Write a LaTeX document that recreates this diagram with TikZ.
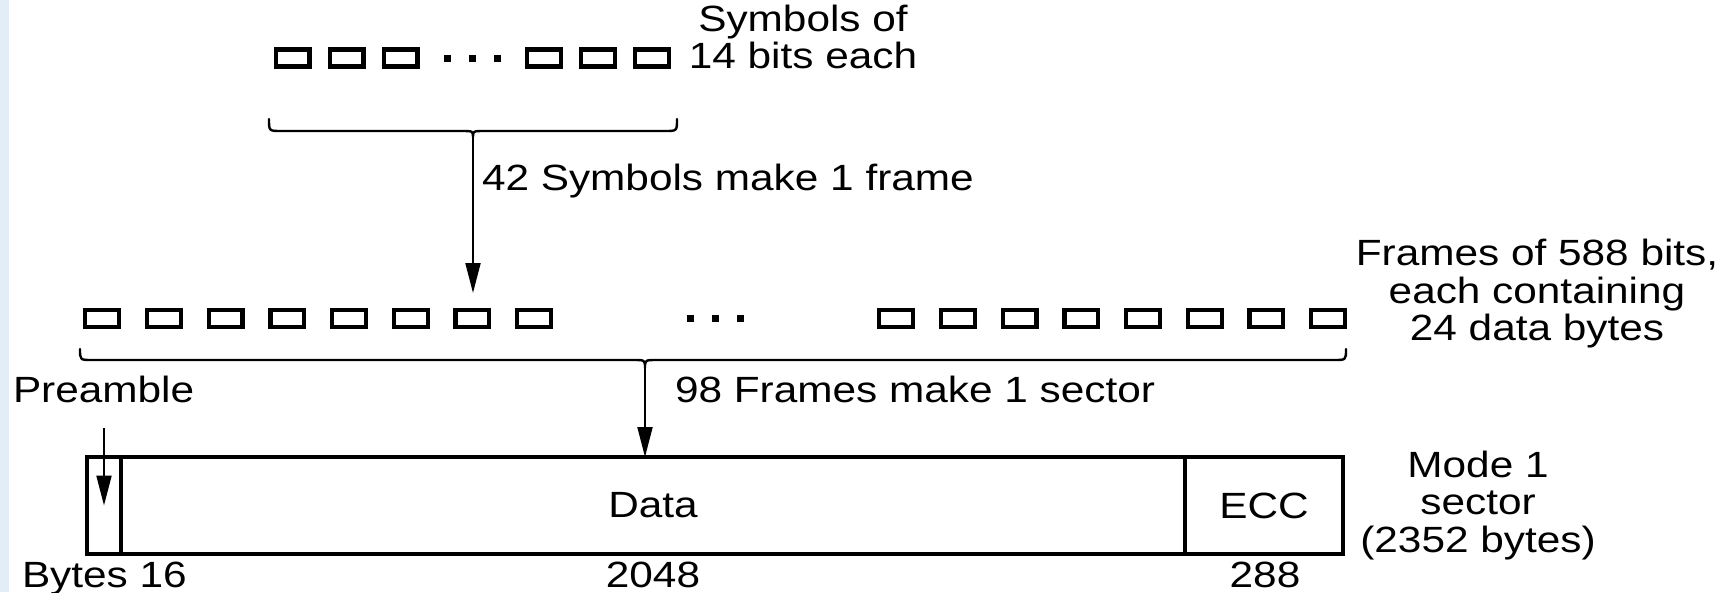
\documentclass[tikz,border=0pt]{standalone}
\usepackage{fontspec}
\setmainfont{Liberation Sans}[FakeStretch=1.16]
\usetikzlibrary{arrows.meta}
\definecolor{stripblue}{RGB}{226,237,248}
\begin{document}
\begin{tikzpicture}[x=1pt,y=-1pt,
  txt/.style={font=\fontsize{36.5}{37.5}\selectfont, inner sep=0pt, outer sep=0pt},
  sym/.style={draw, line width=4.2pt, minimum width=33.8pt, minimum height=17pt, inner sep=0pt, outer sep=0pt},
  dotmark/.style={fill, minimum size=7pt, inner sep=0pt, outer sep=0pt},
  bracepath/.style={line width=2.4pt, line cap=round, line join=round},
  arr/.style={line width=2pt, -{Triangle[length=30pt,width=15pt]}},
  cell/.style={draw, line width=3.8pt, minimum height=97pt, inner sep=0pt, outer sep=0pt, font=\fontsize{36.5}{37.5}\selectfont}]
\useasboundingbox (0,0) rectangle (1723,592);
\fill[stripblue] (0,0) rectangle (9,592);
% symbols row
\foreach \i/\x in {1/292.5,2/346.5,3/400.5,4/544,5/598,6/652}
  \node[sym] (s\i) at (\x,58) {};
\foreach \i/\x in {1/447,2/472,3/497}
  \node[dotmark] (sd\i) at (\x,58.5) {};
% frames row
\foreach \k in {0,...,7} {
  \node[sym] (fl\k) at ({102.25+61.7*\k},318.5) {};
  \node[sym] (fr\k) at ({896.25+61.7*\k},318.5) {};
}
\foreach \i/\x in {1/690,2/715,3/740}
  \node[dotmark] (fd\i) at (\x,318) {};
% braces
\coordinate (tb) at (473,137);
\coordinate (bb) at (645,368);
\draw[bracepath] (269,119) .. controls (269,131) .. (281,131) -- (461,131)
  .. controls (473,131) .. (tb) .. controls (473,131) .. (485,131) -- (665,131)
  .. controls (677,131) .. (677,119);
\draw[bracepath] (80,349) .. controls (80,360) .. (92,360) -- (633,360)
  .. controls (645,360) .. (bb) .. controls (645,360) .. (657,360) -- (1334,360)
  .. controls (1346,360) .. (1346,349);
% sector
\node[cell, minimum width=34pt] (pre) at (104,505.5) {};
\node[cell, minimum width=1064pt] (data) at (653,505.5) {Data};
\node[cell, minimum width=158pt] (ecc) at (1264,505.5) {ECC};
% arrows
\draw[arr, shorten >=17pt] (tb) -- (tb |- fl6.north);
\draw[arr] (bb) -- (bb |- data.north);
\coordinate (ps) at (104,428);
\draw[arr] (ps) -- (pre.center);
% labels
\node[txt, align=center, anchor=north] (symlab) at (803,5) {Symbols of\\14 bits each};
\node[txt, anchor=base west] (l42) at (482,190) {42 Symbols make 1 frame};
\node[txt, align=center, anchor=north] (framelab) at (1537,239.5) {Frames of 588 bits,\\each containing\\24 data bytes};
\node[txt, anchor=base west] (prelab) at (13,402) {Preamble};
\node[txt, anchor=base west] (l98) at (675,402) {98 Frames make 1 sector};
\node[txt, align=center, anchor=north] (modelab) at (1478,451) {Mode 1\\sector\\(2352 bytes)};
\node[txt, anchor=base west] (bytes) at (22,587) {Bytes 16};
\node[txt, anchor=base] (n2048) at (653,587) {2048};
\node[txt, anchor=base] (n288) at (1265,587) {288};
\end{tikzpicture}
\end{document}
